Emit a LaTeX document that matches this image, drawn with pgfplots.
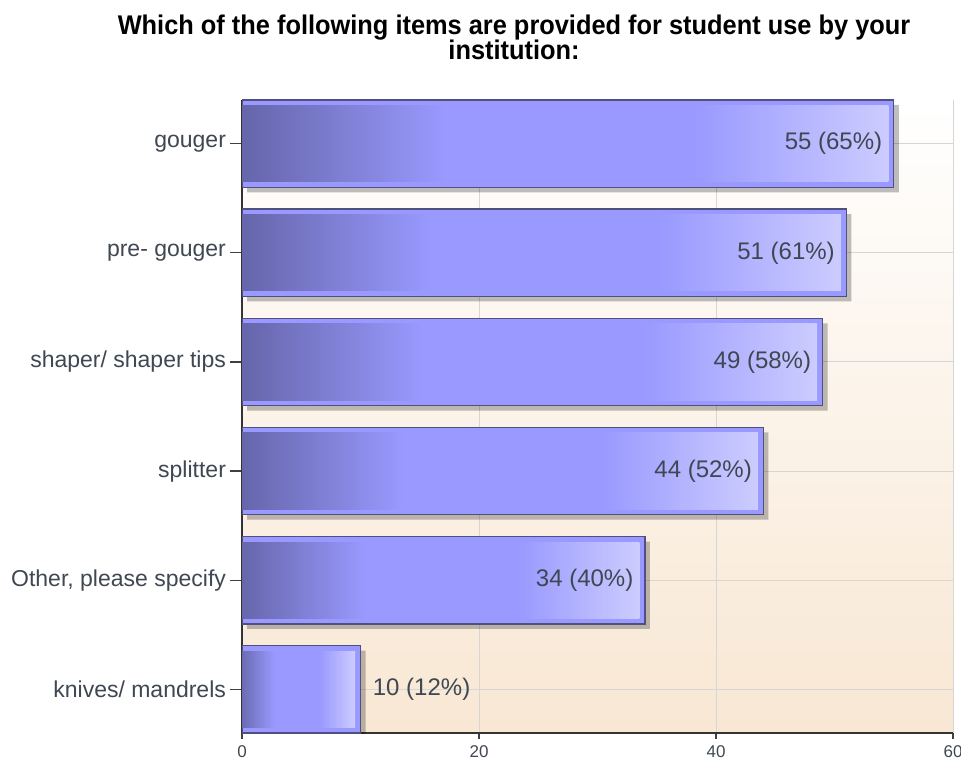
\documentclass[border=0pt]{standalone}
\usepackage{pgfplots}
\pgfplotsset{compat=1.18}
\usepackage{fontspec}
\setmainfont{Liberation Sans}
\definecolor{bdark}{HTML}{6464A8}
\definecolor{bmid}{HTML}{9999FF}
\definecolor{blight}{HTML}{CCCCFF}
\definecolor{bedge}{HTML}{4F4F80}
\definecolor{labelc}{HTML}{3F4752}
\definecolor{gridc}{HTML}{D6D6D6}
\definecolor{bgtop}{HTML}{FFFFFF}
\definecolor{bgbot}{HTML}{F8E7D3}
\pgfdeclarehorizontalshading{barshade}{100bp}{color(0bp)=(bdark); color(25bp)=(bdark); color(41bp)=(bmid); color(60bp)=(bmid); color(75bp)=(blight); color(100bp)=(blight)}
\pgfplotsset{
  barbase/.style={xbar, bar width=0.8, bar shift=0pt, nodes near coords align=horizontal},
  % one plot per bar, so that each bar gets its own gradient
  barinner/.style={barbase, bar width=0.7, shading=barshade, draw=none, xshift=-2.75pt},
}
\begin{document}
\begin{tikzpicture}
\useasboundingbox (0,0) rectangle (480.5pt,379.5pt);
\node[anchor=base] at (257pt,362pt) {\scalebox{0.94}[1]{\fontsize{13.5}{16}\selectfont\bfseries Which of the following items are provided for student use by your}};
\node[anchor=base] at (257pt,349.5pt) {\scalebox{0.94}[1]{\fontsize{13.5}{16}\selectfont\bfseries institution:}};
\begin{axis}[
  at={(121pt,13pt)}, anchor=south west,
  width=355.5pt, height=316.5pt, scale only axis,
  xmin=0, xmax=60, ymin=-0.4, ymax=5.4,
  xtick={0,20,40,60},
  ytick={0,...,5},
  yticklabels={knives/ mandrels, {Other, please specify}, splitter, shaper/ shaper tips, pre- gouger, gouger},
  axis x line*=bottom, axis y line*=left,
  axis line style={black!80, line width=0.7pt},
  grid=major, grid style={gridc, line width=0.5pt},
  tick align=outside, major tick length=6pt,
  tick style={black!75, line width=0.6pt},
  xtick style={/pgfplots/major tick length=3pt},
  axis background/.style={top color=bgtop, bottom color=bgbot},
  /pgf/number format/assume math mode=true,
  yticklabel style={font=\fontsize{11.5}{13}\selectfont, text=labelc, xshift=1.5pt},
  xticklabel style={font=\fontsize{8.5}{10}\selectfont, text=labelc, yshift=3pt},
]
% shadow
\addplot[barbase, draw=none, fill=black, fill opacity=0.25, xshift=2.5pt, yshift=-2.5pt]
  coordinates {(55,5) (51,4) (49,3) (44,2) (34,1) (10,0)};
% bar frame
\addplot[barbase, fill=bmid, draw=bedge, line width=0.7pt]
  coordinates {(55,5) (51,4) (49,3) (44,2) (34,1) (10,0)};
% bar gradients inside the frame
\addplot[barinner] coordinates {(55,5)};
\addplot[barinner] coordinates {(51,4)};
\addplot[barinner] coordinates {(49,3)};
\addplot[barinner] coordinates {(44,2)};
\addplot[barinner] coordinates {(34,1)};
\addplot[barinner] coordinates {(10,0)};
% labels inside
\addplot[barbase, draw=none, fill=none, point meta=explicit symbolic,
  nodes near coords={\llap{\pgfplotspointmeta}},
  every node near coord/.append style={anchor=west, inner sep=0pt, xshift=-6.5pt, font=\fontsize{12}{14}\selectfont, text=labelc}]
  coordinates {(55,5) [55 (65\%)] (51,4) [51 (61\%)] (49,3) [49 (58\%)] (44,2) [44 (52\%)] (34,1) [34 (40\%)]};
% label outside
\addplot[barbase, draw=none, fill=none, point meta=explicit symbolic,
  nodes near coords,
  every node near coord/.append style={anchor=west, inner sep=0pt, xshift=6pt, font=\fontsize{12}{14}\selectfont, text=labelc}]
  coordinates {(10,0) [10 (12\%)]};
\end{axis}
\end{tikzpicture}
\end{document}
